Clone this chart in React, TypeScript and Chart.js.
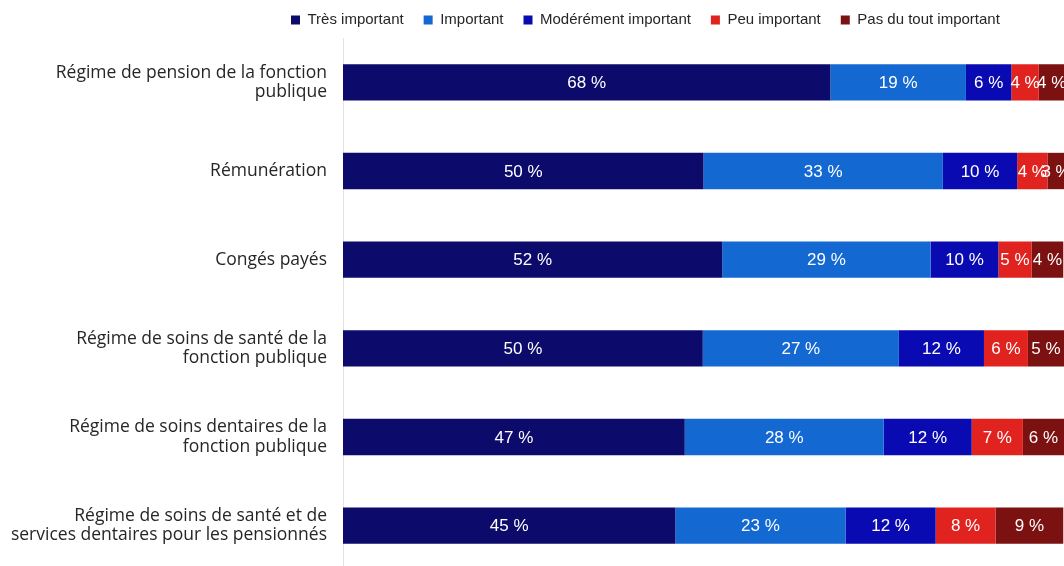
import React, { useEffect, useRef } from "react";
import { Chart, registerables } from "chart.js";

Chart.register(...registerables);

// Categories (multi-line labels)
const categories: string[][] = [
  ["Régime de pension de la fonction", "publique"],
  ["Rémunération"],
  ["Congés payés"],
  ["Régime de soins de santé de la", "fonction publique"],
  ["Régime de soins dentaires de la", "fonction publique"],
  ["Régime de soins de santé et de", "services dentaires pour les pensionnés"],
];

const seriesNames = [
  "Très important",
  "Important",
  "Modérément important",
  "Peu important",
  "Pas du tout important",
];

// Bar lengths (percent)
const tresImportant = [67.6, 50.0, 52.6, 49.9, 47.4, 46.1];
const important = [18.8, 33.2, 28.9, 27.2, 27.6, 23.6];
const moderement = [6.3, 10.3, 9.4, 11.8, 12.2, 12.5];
const peuImportant = [3.8, 4.2, 4.6, 6.1, 7.1, 8.3];
const pasDuTout = [3.6, 2.4, 4.4, 5.0, 5.7, 9.4];

// Printed labels (percent)
const tresImportantLabels = [68, 50, 52, 50, 47, 45];
const importantLabels = [19, 33, 29, 27, 28, 23];
const moderementLabels = [6, 10, 10, 12, 12, 12];
const peuImportantLabels = [4, 4, 5, 6, 7, 8];
const pasDuToutLabels = [4, 3, 4, 5, 6, 9];

const colors = ["#0c0b6c", "#1368d2", "#0a0ab2", "#e0231f", "#7b1111"];

const seriesValues = [tresImportant, important, moderement, peuImportant, pasDuTout];
const seriesLabels = [
  tresImportantLabels,
  importantLabels,
  moderementLabels,
  peuImportantLabels,
  pasDuToutLabels,
];

const FONT = "'Liberation Sans', Arial, sans-serif";
const TICK_FONT = "'Open Sans', 'Liberation Sans', sans-serif";

const dataLabelPlugin = {
  id: "segmentLabels",
  afterDatasetsDraw(chart: any) {
    const ctx = chart.ctx;
    ctx.save();
    ctx.font = `17px ${FONT}`;
    ctx.fillStyle = "#ffffff";
    ctx.textAlign = "center";
    ctx.textBaseline = "middle";
    chart.data.datasets.forEach((ds: any, di: number) => {
      const meta = chart.getDatasetMeta(di);
      meta.data.forEach((bar: any, i: number) => {
        const x = (bar.x + bar.base) / 2;
        const y = bar.y;
        ctx.fillText(`${seriesLabels[di][i]} %`, x, y + 1);
      });
    });
    ctx.restore();
  },
};

const legendPlacePlugin = {
  id: "legendPlace",
  afterLayout(chart: any) {
    const lg = chart.legend;
    if (!lg) return;
    const pad = lg.options.labels.padding;
    lg.left = 291 - pad;
    lg.right = 1064;
    lg.top = 20 - pad - 7.5;
    lg.bottom = lg.top + 80;
  },
};

export default function App() {
  const ref = useRef<HTMLCanvasElement | null>(null);

  useEffect(() => {
    if (!ref.current) return;
    const chart = new Chart(ref.current, {
      type: "bar",
      data: {
        labels: categories,
        datasets: seriesNames.map((name, i) => ({
          label: name,
          data: seriesValues[i],
          backgroundColor: colors[i],
          borderWidth: 0,
          barPercentage: 0.41,
          categoryPercentage: 1,
        })),
      },
      options: {
        indexAxis: "y",
        responsive: true,
        maintainAspectRatio: false,
        animation: false,
        devicePixelRatio: 1,
        layout: { padding: { top: 0, right: 0, bottom: 0, left: 0 } },
        plugins: {
          legend: {
            position: "top",
            align: "start",
            maxHeight: 38,
            labels: {
              boxWidth: 9,
              boxHeight: 9,
              padding: 20,
              color: "#262626",
              font: { family: FONT, size: 15 },
            },
          },
          tooltip: { enabled: false },
        },
        scales: {
          x: {
            stacked: true,
            min: 0,
            max: 100,
            display: false,
          },
          y: {
            stacked: true,
            afterFit(scale: any) {
              scale.width = 343;
              scale.paddingTop = 0;
              scale.paddingBottom = 0;
            },
            grid: { display: false, drawTicks: false },
            border: { display: true, color: "#e3e3e3", width: 1 },
            ticks: {
              padding: 16,
              color: "#262626",
              font: { family: TICK_FONT, size: 17.5, lineHeight: 1.11 },
            },
          },
        },
      },
      plugins: [dataLabelPlugin, legendPlacePlugin],
    });
    return () => chart.destroy();
  }, []);

  return (
    <div
      style={{
        position: "fixed",
        left: 0,
        top: 0,
        width: 1064,
        height: 566,
        overflow: "hidden",
        background: "#ffffff",
      }}
    >
      <div style={{ position: "relative", width: 1064, height: 570 }}>
        <canvas ref={ref} />
      </div>
    </div>
  );
}
